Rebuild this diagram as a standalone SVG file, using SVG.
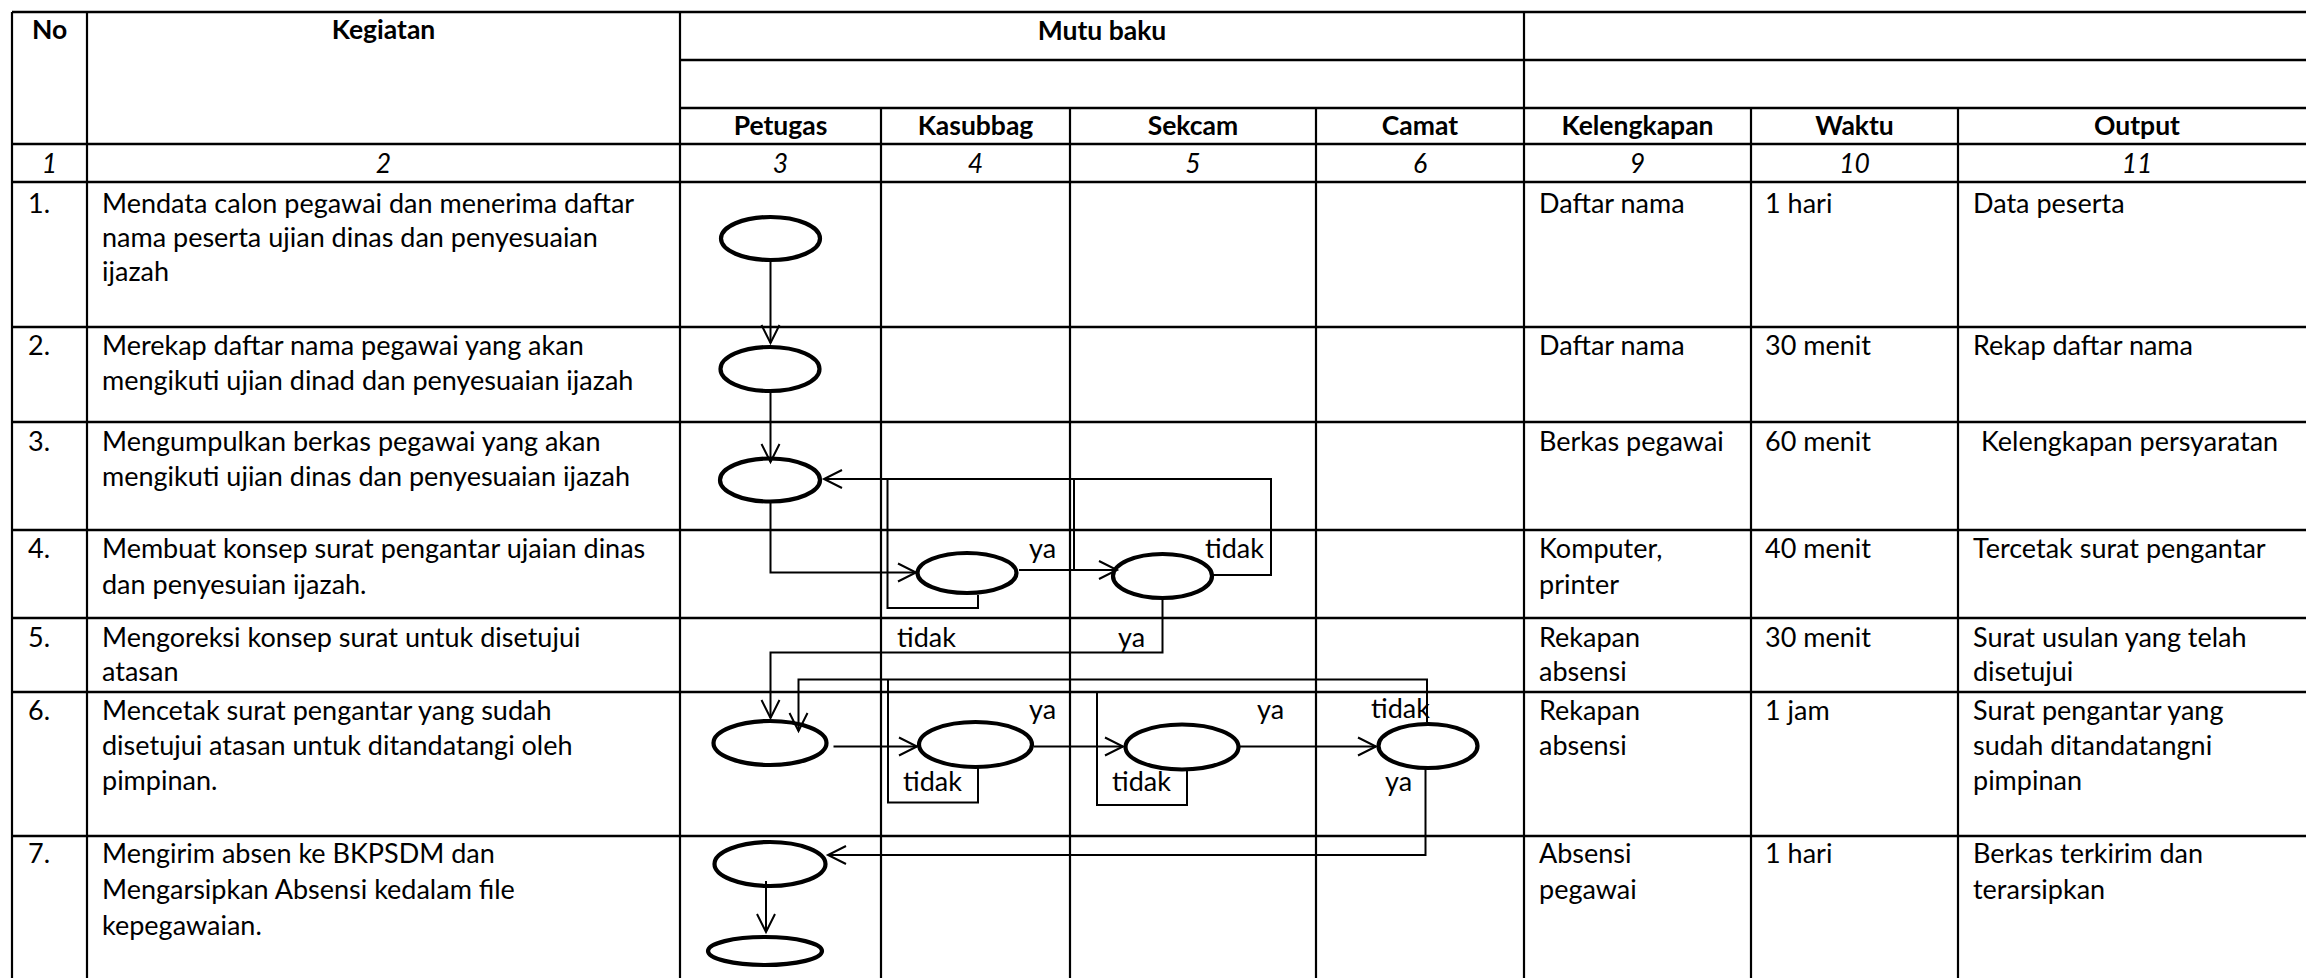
<svg xmlns="http://www.w3.org/2000/svg" width="2306" height="978" viewBox="0 0 2306 978">
<style>
.h{stroke:#000;stroke-width:2.6;fill:none}
.v{stroke:#000;stroke-width:2.2;fill:none}
.t{font-family:Lato,"Liberation Sans",sans-serif;font-size:27px;fill:#000}
.b{font-family:Lato,"Liberation Sans",sans-serif;font-size:26.5px;font-weight:bold;fill:#000;text-anchor:middle}
.i{font-family:Lato,"Liberation Sans",sans-serif;font-size:26.5px;font-style:italic;fill:#000;text-anchor:middle}
.n ellipse{fill:none;stroke:#000;stroke-width:4.2}
.c path{fill:none;stroke:#000;stroke-width:2}
.c .a{marker-end:url(#arr)}
</style>
<defs>
<marker id="arr" markerUnits="userSpaceOnUse" markerWidth="24" markerHeight="24" refX="20" refY="12" orient="auto" overflow="visible">
<path d="M2,3 L20,12 L2,21" fill="none" stroke="#000" stroke-width="2"/>
</marker>
</defs>
<rect width="2306" height="978" fill="#fff"/>
<g id="table">
<path class="h" d="M12,12H2306M680,60H2306M680,108H2306M12,144H2306M12,182H2306M12,327H2306M12,422H2306M12,530H2306M12,618H2306M12,692H2306M12,836H2306"/>
<path class="v" d="M12,12V978M87,12V978M680,12V978M1524,12V978M881,108V978M1070,108V978M1316,108V978M1751,108V978M1958,108V978"/>
</g>
<g id="headers">
<text class="b" x="49.5" y="39">No</text>
<text class="b" x="383.5" y="39">Kegiatan</text>
<text class="b" x="1102" y="40">Mutu baku</text>
<text class="b" x="780.5" y="135">Petugas</text>
<text class="b" x="975.5" y="135">Kasubbag</text>
<text class="b" x="1193" y="135">Sekcam</text>
<text class="b" x="1420" y="135">Camat</text>
<text class="b" x="1637.5" y="135">Kelengkapan</text>
<text class="b" x="1854.5" y="135">Waktu</text>
<text class="b" x="2137" y="135">Output</text>
<text class="i" x="49.5" y="173">1</text>
<text class="i" x="383.5" y="173">2</text>
<text class="i" x="780.5" y="173">3</text>
<text class="i" x="975.5" y="173">4</text>
<text class="i" x="1193" y="173">5</text>
<text class="i" x="1420" y="173">6</text>
<text class="i" x="1637.5" y="173">9</text>
<text class="i" x="1854.5" y="173">10</text>
<text class="i" x="2137" y="173">11</text>
</g>
<g id="rows">
<text class="t" x="28" y="213">1.</text>
<text class="t" x="102" y="213">Mendata calon pegawai dan menerima daftar</text>
<text class="t" x="102" y="247">nama peserta ujian dinas dan penyesuaian</text>
<text class="t" x="102" y="281">ijazah</text>
<text class="t" x="1539" y="213">Daftar nama</text>
<text class="t" x="1765" y="213">1 hari</text>
<text class="t" x="1973" y="213">Data peserta</text>

<text class="t" x="28" y="355">2.</text>
<text class="t" x="102" y="355">Merekap daftar nama pegawai yang akan</text>
<text class="t" x="102" y="390">mengikuti ujian dinad dan penyesuaian ijazah</text>
<text class="t" x="1539" y="355">Daftar nama</text>
<text class="t" x="1765" y="355">30 menit</text>
<text class="t" x="1973" y="355">Rekap daftar nama</text>

<text class="t" x="28" y="451">3.</text>
<text class="t" x="102" y="451">Mengumpulkan berkas pegawai yang akan</text>
<text class="t" x="102" y="486">mengikuti ujian dinas dan penyesuaian ijazah</text>
<text class="t" x="1539" y="451">Berkas pegawai</text>
<text class="t" x="1765" y="451">60 menit</text>
<text class="t" x="1981" y="451">Kelengkapan persyaratan</text>

<text class="t" x="28" y="558">4.</text>
<text class="t" x="102" y="558">Membuat konsep surat pengantar ujaian dinas</text>
<text class="t" x="102" y="594">dan penyesuian ijazah.</text>
<text class="t" x="1539" y="558">Komputer,</text>
<text class="t" x="1539" y="594">printer</text>
<text class="t" x="1765" y="558">40 menit</text>
<text class="t" x="1973" y="558">Tercetak surat pengantar</text>

<text class="t" x="28" y="647">5.</text>
<text class="t" x="102" y="647">Mengoreksi konsep surat untuk disetujui</text>
<text class="t" x="102" y="681">atasan</text>
<text class="t" x="1539" y="647">Rekapan</text>
<text class="t" x="1539" y="681">absensi</text>
<text class="t" x="1765" y="647">30 menit</text>
<text class="t" x="1973" y="647">Surat usulan yang telah</text>
<text class="t" x="1973" y="681">disetujui</text>

<text class="t" x="28" y="720">6.</text>
<text class="t" x="102" y="720">Mencetak surat pengantar yang sudah</text>
<text class="t" x="102" y="755">disetujui atasan untuk ditandatangi oleh</text>
<text class="t" x="102" y="790">pimpinan.</text>
<text class="t" x="1539" y="720">Rekapan</text>
<text class="t" x="1539" y="755">absensi</text>
<text class="t" x="1765" y="720">1 jam</text>
<text class="t" x="1973" y="720">Surat pengantar yang</text>
<text class="t" x="1973" y="755">sudah ditandatangni</text>
<text class="t" x="1973" y="790">pimpinan</text>

<text class="t" x="28" y="863">7.</text>
<text class="t" x="102" y="863">Mengirim absen ke BKPSDM dan</text>
<text class="t" x="102" y="899">Mengarsipkan Absensi kedalam file</text>
<text class="t" x="102" y="935">kepegawaian.</text>
<text class="t" x="1539" y="863">Absensi</text>
<text class="t" x="1539" y="899">pegawai</text>
<text class="t" x="1765" y="863">1 hari</text>
<text class="t" x="1973" y="863">Berkas terkirim dan</text>
<text class="t" x="1973" y="899">terarsipkan</text>
</g>
<g id="connectors" class="c">
<path class="a" d="M770.5,260V343"/>
<path class="a" d="M770.5,391V462"/>
<path class="a" d="M1213,575H1271V479H824"/>
<path class="a" d="M770.5,502V572.5H916"/>
<path class="a" d="M1019,570H1117"/>
<path d="M978,595V608H887.5V479"/>
<path d="M1074,479V570"/>
<path class="a" d="M1162.5,599V652.5H770.5V718"/>
<path class="a" d="M1427,722V679.5H798.5V731"/>
<path d="M888,680V802.5H978V767"/>
<path d="M1097,692V805H1187V770"/>
<path class="a" d="M833.5,746.5H917"/>
<path class="a" d="M1034,746.5H1123"/>
<path class="a" d="M1240,746.5H1376"/>
<path class="a" d="M1425.5,769V855H828"/>
<path class="a" d="M766,881V932"/>
</g>
<g id="labels">
<text class="t" x="1029" y="558">ya</text>
<text class="t" x="1205" y="558">tidak</text>
<text class="t" x="897" y="647">tidak</text>
<text class="t" x="1118" y="647">ya</text>
<text class="t" x="1029" y="719">ya</text>
<text class="t" x="1257" y="719">ya</text>
<text class="t" x="1371" y="718">tidak</text>
<text class="t" x="903" y="791">tidak</text>
<text class="t" x="1112" y="791">tidak</text>
<text class="t" x="1385" y="791">ya</text>
</g>
<g id="e1" class="n"><ellipse cx="770.5" cy="238.5" rx="49.5" ry="21.5"/></g>
<g id="e2" class="n"><ellipse cx="770" cy="369" rx="49.5" ry="22"/></g>
<g id="e3" class="n"><ellipse cx="770" cy="480" rx="50" ry="21.5"/></g>
<g id="e4" class="n"><ellipse cx="967" cy="573" rx="49.5" ry="20"/></g>
<g id="e5" class="n"><ellipse cx="1162.5" cy="576" rx="49.5" ry="22"/></g>
<g id="e6" class="n"><ellipse cx="770" cy="743" rx="56.5" ry="22"/></g>
<g id="e7" class="n"><ellipse cx="975.5" cy="744.5" rx="56.5" ry="22.5"/></g>
<g id="e8" class="n"><ellipse cx="1182" cy="747" rx="56.5" ry="22.5"/></g>
<g id="e9" class="n"><ellipse cx="1428" cy="746" rx="49.5" ry="22"/></g>
<g id="e10" class="n"><ellipse cx="770" cy="864" rx="55.5" ry="22"/></g>
<g id="e11" class="n"><ellipse cx="765" cy="951" rx="57" ry="14"/></g>
</svg>
